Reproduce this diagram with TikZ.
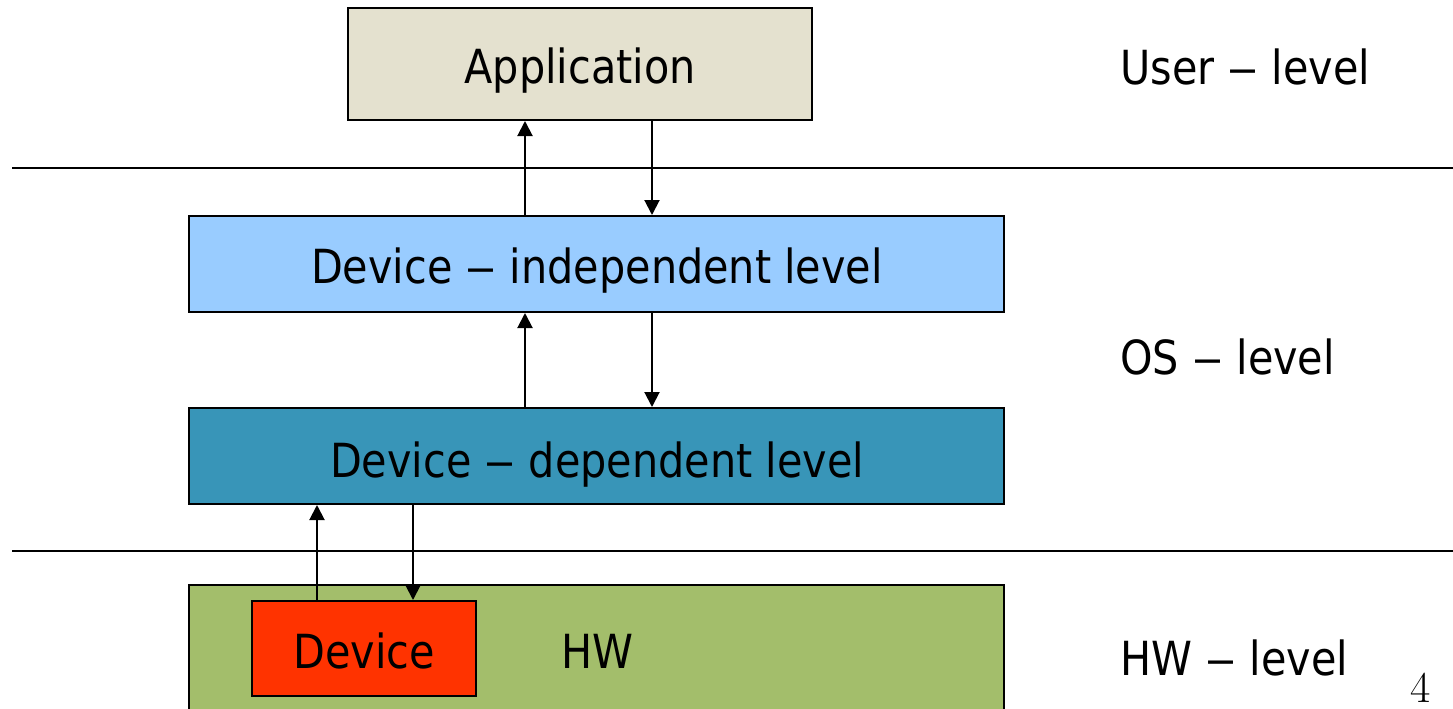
\documentclass[tikz,border=0pt]{standalone}
\usepackage{fontspec}
\setmainfont{DejaVu Sans}[FakeStretch=0.88]
\newfontfamily\pagenumfont{Latin Modern Roman}
\usetikzlibrary{arrows.meta}
\newcommand\lvdash{\scalebox{1.5}[1]{–}}
\definecolor{appbeige}{HTML}{E4E1CF}
\definecolor{indepblue}{HTML}{99CCFF}
\definecolor{depteal}{HTML}{3895B8}
\definecolor{hwgreen}{HTML}{A3BE6B}
\definecolor{devred}{HTML}{FF3300}
\tikzset{
  layerbox/.style={draw=black, line width=1pt},
  lbl/.style={anchor=base, inner sep=0pt, font=\fontsize{23.5pt}{28pt}\selectfont},
  sidelbl/.style={anchor=base west, inner sep=0pt, font=\fontsize{23.5pt}{28pt}\selectfont},
  sep/.style={line width=1pt},
  flow/.style={line width=1pt, -{Triangle[length=7.5pt,width=7.5pt]}}
}
\begin{document}
\begin{tikzpicture}[x=0.5pt,y=-0.5pt]
\clip (0,0) rectangle (1453,708);
\fill[white] (0,0) rectangle (1453,708);
% boxes
\node[layerbox, fill=appbeige, minimum width=232pt, minimum height=56pt, inner sep=0pt] (app) at (580,64) {};
\node[layerbox, fill=indepblue, minimum width=407.5pt, minimum height=48pt, inner sep=0pt] (indep) at (596.5,264) {};
\node[layerbox, fill=depteal, minimum width=407.5pt, minimum height=48pt, inner sep=0pt] (dep) at (596.5,456) {};
\node[layerbox, fill=hwgreen, minimum width=407.5pt, minimum height=70pt, inner sep=0pt] (hw) at (596.5,655) {};
\node[layerbox, fill=devred, minimum width=112pt, minimum height=47.5pt, inner sep=0pt] (dev) at (364,648.5) {};
% separators
\coordinate (s1a) at (12,168); \coordinate (s1b) at (1453,168);
\coordinate (s2a) at (12,551); \coordinate (s2b) at (1453,551);
\draw[sep] (s1a) -- (s1b);
\draw[sep] (s2a) -- (s2b);
% texts
\node[lbl] (tapp) at (580,83) {Application};
\node[lbl] (tindep) at (597,283) {Device \lvdash{} independent level};
\node[lbl] (tdep) at (597,477) {Device \lvdash{} dependent level};
\node[lbl] (tdev) at (364,668) {Device};
\node[lbl] (thw) at (597,668) {HW};
\node[sidelbl] (ul) at (1120,84) {User \lvdash{} level};
\node[sidelbl] (ol) at (1120,374) {OS \lvdash{} level};
\node[sidelbl] (hl) at (1120,675) {HW \lvdash{} level};
\node[anchor=base, inner sep=0pt, font=\pagenumfont\fontsize{22pt}{26pt}\selectfont] (pg) at (1421,702) {4};
% arrows
\draw[flow] (indep.north -| 525,0) -- (app.south -| 525,0);
\draw[flow] (app.south -| 652,0) -- (indep.north -| 652,0);
\draw[flow] (dep.north -| 525,0) -- (indep.south -| 525,0);
\draw[flow] (indep.south -| 652,0) -- (dep.north -| 652,0);
\draw[flow] (dev.north -| 317,0) -- (dep.south -| 317,0);
\draw[flow] (dep.south -| 413,0) -- (dev.north -| 413,0);
\end{tikzpicture}
\end{document}
